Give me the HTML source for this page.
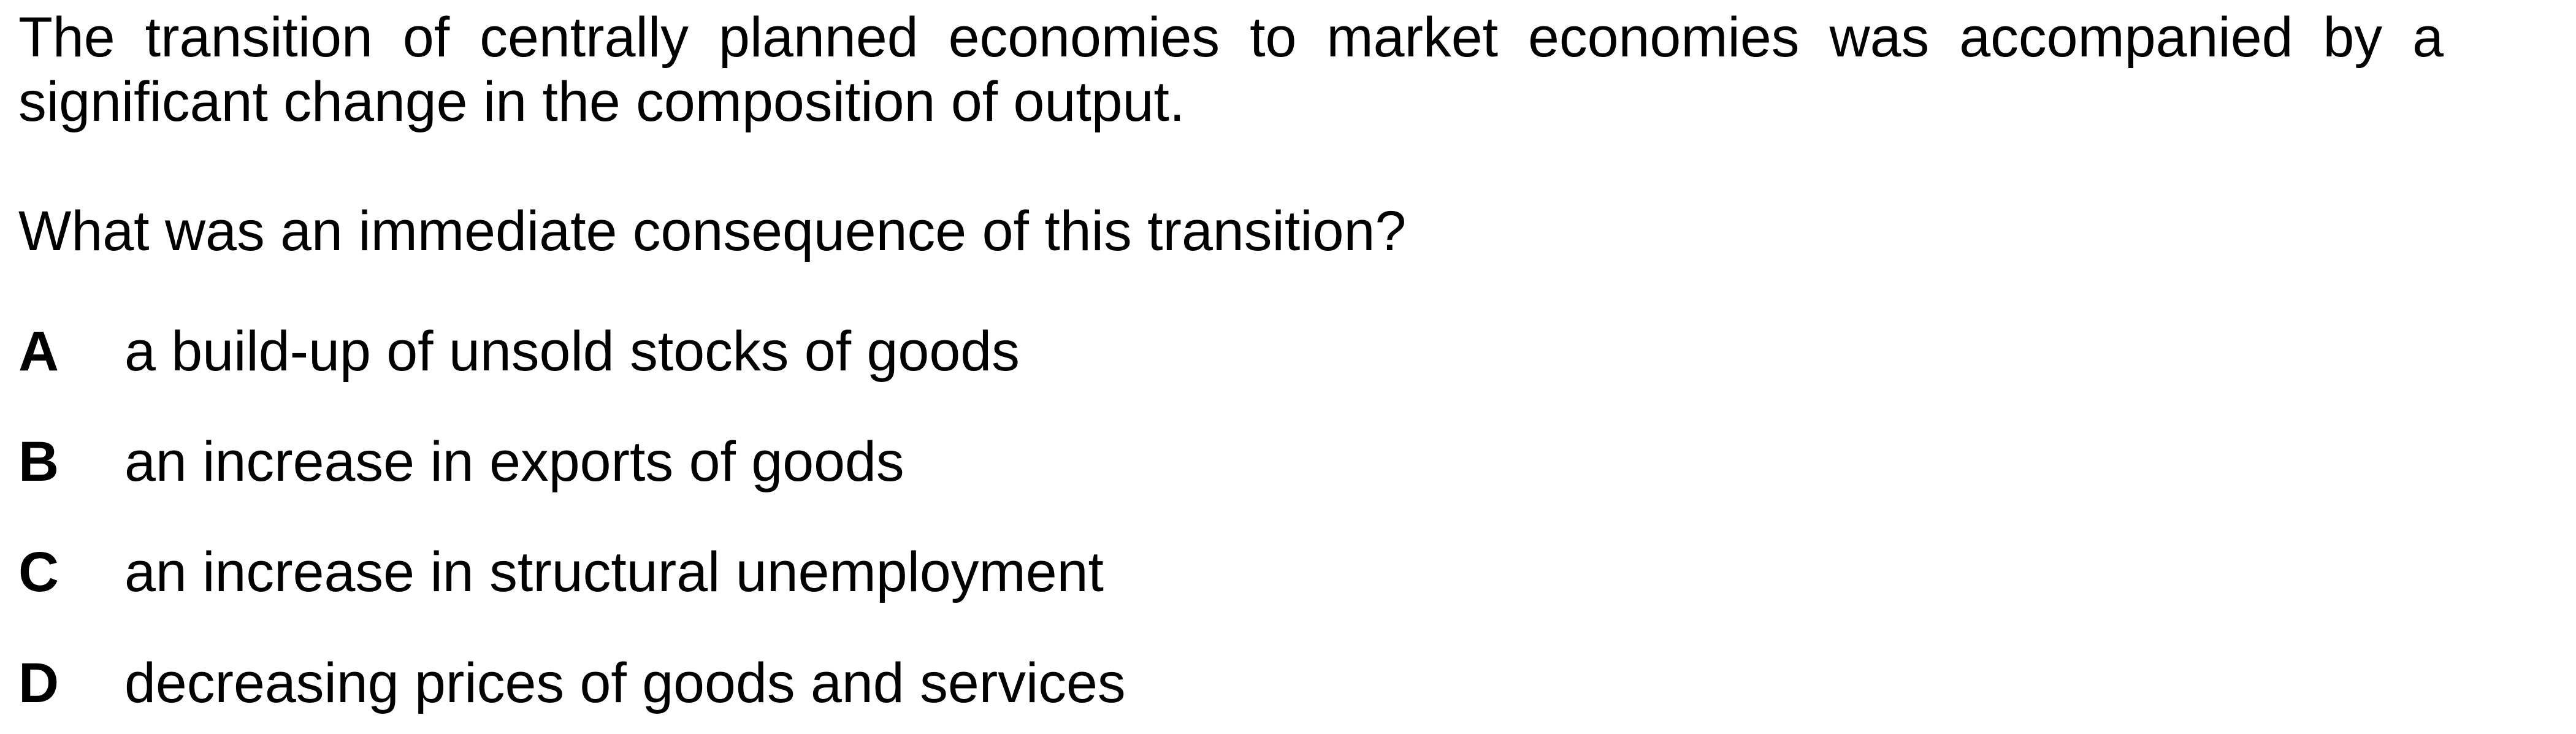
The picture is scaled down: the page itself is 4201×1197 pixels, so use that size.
<!DOCTYPE html>
<html><head><meta charset="utf-8"><style>
html,body{margin:0;padding:0;background:#fff;}
body{width:4201px;height:1197px;position:relative;overflow:hidden;font-family:"Liberation Sans",Arial,sans-serif;color:#000;font-size:91.5px;}
.l{position:absolute;left:30px;white-space:nowrap;line-height:1;}
.j{white-space:normal;text-align:justify;text-align-last:justify;width:3955px;}
.k{position:absolute;left:30px;font-weight:bold;line-height:1;}
.o{position:absolute;left:203px;line-height:1;white-space:nowrap;}
</style></head><body>
<div class="l j" style="top:16px">The transition of centrally planned economies to market economies was accompanied by a</div>
<div class="l" style="top:121px">significant change in the composition of output.</div>
<div class="l" style="top:332px">What was an immediate consequence of this transition?</div>
<div><span class="k" style="top:528px">A</span><span class="o" style="top:528px">a build-up of unsold stocks of goods</span></div>
<div><span class="k" style="top:708px">B</span><span class="o" style="top:708px">an increase in exports of goods</span></div>
<div><span class="k" style="top:888px">C</span><span class="o" style="top:888px">an increase in structural unemployment</span></div>
<div><span class="k" style="top:1069px">D</span><span class="o" style="top:1069px">decreasing prices of goods and services</span></div>
</body></html>
